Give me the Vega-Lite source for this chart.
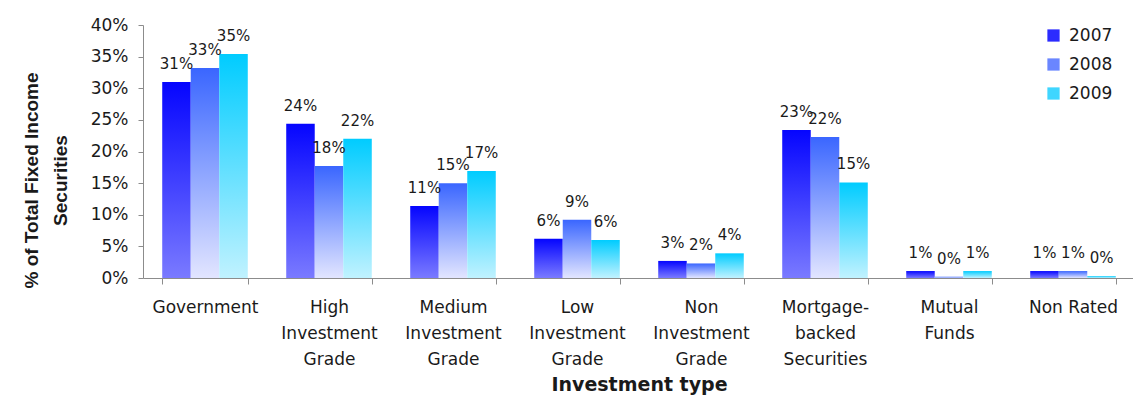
{
  "$schema": "https://vega.github.io/schema/vega-lite/v6.json",
  "width": 992,
  "height": 253,
  "autosize": {"type": "none"},
  "padding": {"left": 143, "top": 25, "right": 0, "bottom": 126},
  "background": "white",
  "config": {
    "view": {"stroke": null},
    "font": "DejaVu Sans",
    "axis": {"domainColor": "#8c8c8c", "tickColor": "#8c8c8c", "labelColor": "#1a1a1a", "titleColor": "#1a1a1a", "grid": false, "labelFont": "DejaVu Sans", "titleFont": "DejaVu Sans"}
  },
  "data": {
    "values": [
      {"type": "Government", "year": "2007", "value": 0.310},
      {"type": "Government", "year": "2008", "value": 0.332},
      {"type": "Government", "year": "2009", "value": 0.354},
      {"type": "High Investment Grade", "year": "2007", "value": 0.244},
      {"type": "High Investment Grade", "year": "2008", "value": 0.177},
      {"type": "High Investment Grade", "year": "2009", "value": 0.220},
      {"type": "Medium Investment Grade", "year": "2007", "value": 0.114},
      {"type": "Medium Investment Grade", "year": "2008", "value": 0.150},
      {"type": "Medium Investment Grade", "year": "2009", "value": 0.169},
      {"type": "Low Investment Grade", "year": "2007", "value": 0.062},
      {"type": "Low Investment Grade", "year": "2008", "value": 0.092},
      {"type": "Low Investment Grade", "year": "2009", "value": 0.060},
      {"type": "Non Investment Grade", "year": "2007", "value": 0.027},
      {"type": "Non Investment Grade", "year": "2008", "value": 0.023},
      {"type": "Non Investment Grade", "year": "2009", "value": 0.039},
      {"type": "Mortgage-backed Securities", "year": "2007", "value": 0.234},
      {"type": "Mortgage-backed Securities", "year": "2008", "value": 0.223},
      {"type": "Mortgage-backed Securities", "year": "2009", "value": 0.151},
      {"type": "Mutual Funds", "year": "2007", "value": 0.011},
      {"type": "Mutual Funds", "year": "2008", "value": 0.002},
      {"type": "Mutual Funds", "year": "2009", "value": 0.011},
      {"type": "Non Rated", "year": "2007", "value": 0.011},
      {"type": "Non Rated", "year": "2008", "value": 0.011},
      {"type": "Non Rated", "year": "2009", "value": 0.003}
    ]
  },
  "encoding": {
    "x": {
      "field": "type", "type": "nominal", "sort": null,
      "scale": {"paddingInner": 0.31, "paddingOuter": 0.155},
      "axis": {
        "labelAngle": 0, "labelFontSize": 17, "labelLineHeight": 26, "labelPadding": 15,
        "tickBand": "extent", "tickSize": 6, "labelBaseline": "top",
        "labelExpr": "!isString(datum.value) ? '' : datum.value == 'Non Rated' ? datum.value : datum.value == 'Mortgage-backed Securities' ? ['Mortgage-','backed','Securities'] : split(datum.value, ' ')",
        "title": "Investment type", "titleFontSize": 19, "titleFontWeight": "bold", "titlePadding": 8
      }
    },
    "xOffset": {"field": "year", "type": "nominal", "scale": {"domain": ["2007", "2008", "2009"], "paddingInner": 0, "paddingOuter": 0}},
    "y": {
      "field": "value", "type": "quantitative",
      "scale": {"domain": [0, 0.4]},
      "axis": {
        "values": [0, 0.05, 0.1, 0.15, 0.2, 0.25, 0.3, 0.35, 0.4], "format": ".0%",
        "labelFontSize": 17, "tickSize": 5, "labelPadding": 10,
        "title": ["% of Total Fixed Income", "Securities"], "titleFont": "Liberation Sans", "titleFontSize": 19, "titleFontWeight": "bold", "titlePadding": 20, "titleLineHeight": 29, "titleY": 155
      }
    }
  },
  "layer": [
    {
      "transform": [{"filter": "datum.year == '2007'"}],
      "mark": {"type": "bar", "color": {"gradient": "linear", "x1": 0, "y1": 0, "x2": 0, "y2": 1, "stops": [{"offset": 0, "color": "#0505ff"}, {"offset": 1, "color": "#7a7aff"}]}}
    },
    {
      "transform": [{"filter": "datum.year == '2008'"}],
      "mark": {"type": "bar", "color": {"gradient": "linear", "x1": 0, "y1": 0, "x2": 0, "y2": 1, "stops": [{"offset": 0, "color": "#3a66ff"}, {"offset": 1, "color": "#e2e5ff"}]}}
    },
    {
      "transform": [{"filter": "datum.year == '2009'"}],
      "mark": {"type": "bar", "color": {"gradient": "linear", "x1": 0, "y1": 0, "x2": 0, "y2": 1, "stops": [{"offset": 0, "color": "#00ccff"}, {"offset": 1, "color": "#c0f2ff"}]}}
    },
    {
      "mark": {"type": "text", "baseline": "bottom", "dy": -10, "fontSize": 15, "color": "#1a1a1a", "font": "DejaVu Sans"},
      "encoding": {"text": {"field": "value", "type": "quantitative", "format": ".0%"}}
    },
    {
      "mark": {"type": "point", "opacity": 0, "shape": "square", "filled": true},
      "encoding": {
        "color": {
          "field": "year", "type": "nominal",
          "scale": {"domain": ["2007", "2008", "2009"], "range": ["#2b2bff", "#6a86ff", "#3fd6ff"]},
          "legend": {
            "title": null, "orient": "none", "legendX": 902, "legendY": 2,
            "symbolType": "square", "symbolSize": 150, "symbolOpacity": 1, "symbolStrokeWidth": 0,
            "labelFontSize": 17, "labelOffset": 7, "rowPadding": 11, "labelColor": "#1a1a1a"
          }
        }
      }
    }
  ]
}
